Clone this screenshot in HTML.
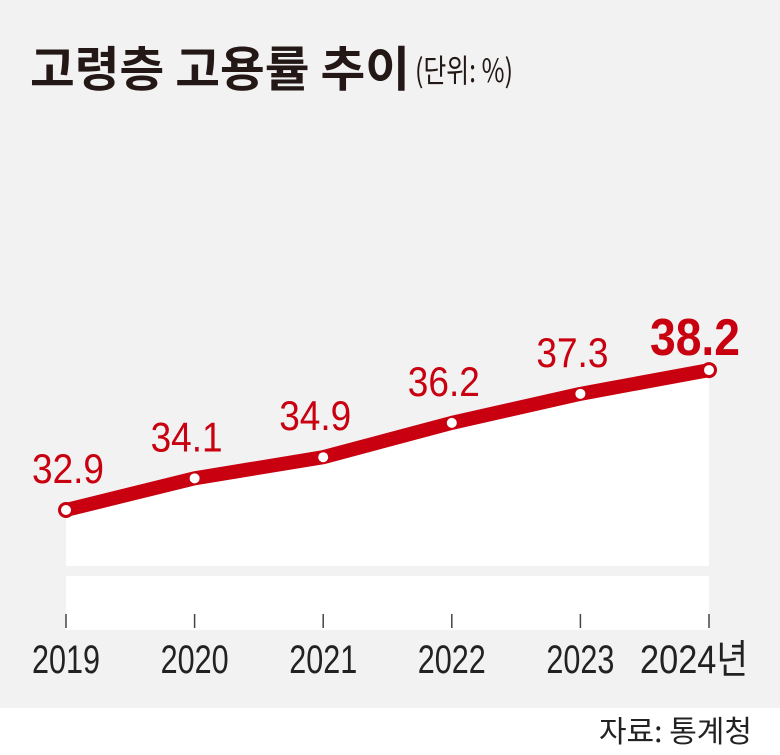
<!DOCTYPE html>
<html><head><meta charset="utf-8"><style>
body{margin:0;width:780px;height:750px;background:#fff;overflow:hidden;font-family:"Liberation Sans","Noto Sans CJK KR",sans-serif}
</style></head><body>
<svg width="780" height="750" xmlns="http://www.w3.org/2000/svg">
<rect x="0" y="0" width="780" height="708" fill="#f2f2f2"/>
<text x="30" y="86" font-size="48" font-weight="bold" fill="#231815" font-family="Noto Sans CJK KR, sans-serif" textLength="380" lengthAdjust="spacingAndGlyphs">고령층 고용률 추이</text>
<text x="415" y="82" font-size="32" fill="#231815" font-family="Noto Sans CJK KR, sans-serif" textLength="98" lengthAdjust="spacingAndGlyphs">(단위: %)</text>
<g id="plot"></g>
<text x="752" y="742" font-size="30" fill="#222" text-anchor="end" font-family="Noto Sans CJK KR, sans-serif">자료: 통계청</text>
</svg>
<script>
const years = ["2019","2020","2021","2022","2023","2024"];
const values = [32.9, 34.1, 34.9, 36.2, 37.3, 38.2];
const labels = ["32.9","34.1","34.9","36.2","37.3","38.2"];
const NS="http://www.w3.org/2000/svg";
const g=document.getElementById('plot');
const x0=66,x1=709;
function xs(i){return x0+(x1-x0)*i/(years.length-1);}
function ys(v){return 510-(v-32.9)*26.4;}
function mk(t,a){const e=document.createElementNS(NS,t);for(const k in a)e.setAttribute(k,a[k]);g.appendChild(e);return e;}
let area="M"+xs(0)+",566";
values.forEach((v,i)=>area+=" L"+xs(i)+","+ys(v));
area+=" L"+xs(values.length-1)+",566 Z";
const ar=mk('path',{d:area,fill:'#fff'});


const band=mk('rect',{x:x0,y:576,width:x1-x0,height:54,fill:'#fff'});


const ln=mk('polyline',{points:values.map((v,i)=>xs(i)+","+ys(v)).join(" "),fill:'none',stroke:'#c8000f','stroke-width':14,'stroke-linejoin':'round','stroke-linecap':'round'});


values.forEach((v,i)=>{
  const last=i===values.length-1, first=i===0;
  const c=mk('circle',{cx:xs(i),cy:ys(v),r:(first||last)?6.5:5,fill:'#fff',stroke:(first||last)?'#c8000f':'none','stroke-width':3});
  
  
  const t=mk('text',{x:xs(i)+(last?-14:(first?2:-8)),y:ys(v)-(last?15:27),'text-anchor':'middle','font-size':last?52:42,'font-weight':last?'bold':'normal',fill:'#c8000f',textLength:last?90:72,lengthAdjust:'spacingAndGlyphs'});
  t.textContent=labels[i];
  
  
  const tk=mk('line',{x1:xs(i),x2:xs(i),y1:614,y2:628,stroke:'#444','stroke-width':1.5});
  
  
  const yl=mk('text',{x:xs(i)+(last?-15:0),y:673,'text-anchor':'middle','font-size':40,fill:'#222',textLength:last?108:68,lengthAdjust:'spacingAndGlyphs','font-family':'Liberation Sans, Noto Sans CJK KR, sans-serif'});
  yl.textContent=years[i]+(last?"년":"");
  
  
});
</script>
</body></html>
